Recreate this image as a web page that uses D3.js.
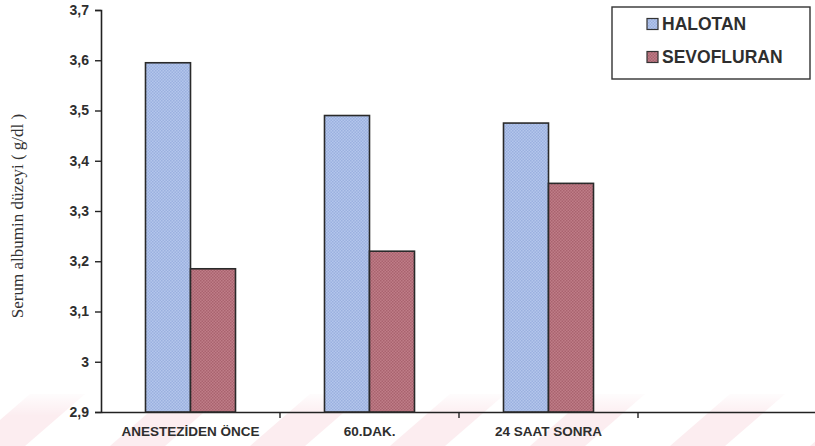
<!DOCTYPE html>
<html>
<head>
<meta charset="utf-8">
<script src="https://cdn.jsdelivr.net/npm/d3@7"></script>
<style>
  html, body { margin: 0; padding: 0; background: #fff; }
  svg { display: block; }
</style>
</head>
<body>
<div id="chart"></div>
<script>
// veriler
const categories = ['ANESTEZİDEN ÖNCE', '60.DAK.', '24 SAAT SONRA', ''];
const seriesNames = ['HALOTAN', 'SEVOFLURAN'];
const halotan = [3.595, 3.49, 3.475, null];
const sevofluran = [3.185, 3.22, 3.355, null];
const yTicks = [2.9, 3, 3.1, 3.2, 3.3, 3.4, 3.5, 3.6, 3.7];

const W = 815, H = 446;
const m = { top: 10, right: -2, bottom: 34, left: 101 };
const w = W - m.left - m.right, h = H - m.top - m.bottom;

const svg = d3.select('#chart').append('svg')
  .attr('width', W).attr('height', H)
  .attr('viewBox', `0 0 ${W} ${H}`);

const defs = svg.append('defs');
// tarama dokusu (taranmış baskı görünümü)
function checker(id, c1, c2) {
  const p = defs.append('pattern').attr('id', id)
    .attr('width', 3).attr('height', 3).attr('patternUnits', 'userSpaceOnUse');
  p.append('rect').attr('width', 3).attr('height', 3).attr('fill', c1);
  p.append('rect').attr('width', 1.5).attr('height', 1.5).attr('fill', c2);
  p.append('rect').attr('x', 1.5).attr('y', 1.5).attr('width', 1.5).attr('height', 1.5).attr('fill', c2);
}
checker('pHal', '#b4c6ec', '#9bb0df');
checker('pSev', '#bf7d88', '#a9636f');
const fills = ['url(#pHal)', 'url(#pSev)'];

// arka plandaki pembe filigran çizgileri
const wm = svg.append('g').attr('opacity', 0.4);
const grad = defs.append('linearGradient').attr('id', 'fade')
  .attr('x1', 0).attr('y1', 0).attr('x2', 0).attr('y2', 1);
grad.append('stop').attr('offset', '0%').attr('stop-color', '#fff').attr('stop-opacity', 1);
grad.append('stop').attr('offset', '100%').attr('stop-color', '#fff').attr('stop-opacity', 0);
d3.range(-1, 7).forEach(i => {
  const x0 = 110 + i * 140;
  wm.append('polygon')
    .attr('points', `${x0},${H} ${x0 + 55},${H} ${x0 + 115},${H - 52} ${x0 + 60},${H - 52}`)
    .attr('fill', '#f9d3da');
});
svg.append('rect').attr('x', 0).attr('y', H - 56).attr('width', W).attr('height', 26)
  .attr('fill', 'url(#fade)');

const g = svg.append('g').attr('transform', `translate(${m.left},${m.top})`);

const x = d3.scaleBand().domain(categories.map((c, i) => i)).range([0, w]).padding(0);
const xs = d3.scaleBand().domain(seriesNames).range([0, 90]);
const y = d3.scaleLinear().domain([2.9, 3.7]).range([h, 0]);

const sans = 'Liberation Sans, Arial, sans-serif';

// y ekseni
const yAxis = g.append('g')
  .call(d3.axisLeft(y).tickValues(yTicks).tickSize(6)
    .tickFormat(d => d3.format('.1f')(d).replace('.', ',').replace(',0', '')));
yAxis.select('.domain').attr('stroke', '#222').attr('stroke-width', 1.6);
yAxis.selectAll('.tick line').attr('stroke', '#222').attr('stroke-width', 1.4);
yAxis.selectAll('text')
  .attr('x', -12)
  .style('font-family', sans)
  .style('font-weight', 'bold').style('font-size', '14px').style('fill', '#2e2e2e');

// x ekseni
const xAxis = g.append('g').attr('transform', `translate(0,${h})`)
  .call(d3.axisBottom(x).tickSize(0).tickFormat(i => categories[i]));
xAxis.select('.domain').attr('stroke', '#222').attr('stroke-width', 1.6);
xAxis.selectAll('text')
  .attr('y', 14)
  .style('font-family', sans)
  .style('font-weight', 'bold').style('font-size', '13.5px').style('fill', '#2e2e2e');
// kategori ayırıcı çentikler
g.selectAll('.xt').data(categories.slice(1)).join('line')
  .attr('x1', (d, i) => x(i + 1)).attr('x2', (d, i) => x(i + 1))
  .attr('y1', h).attr('y2', h + 6)
  .attr('stroke', '#222').attr('stroke-width', 1.4);

// çubuklar
const rows = [];
categories.forEach((c, i) => {
  [halotan, sevofluran].forEach((arr, s) => {
    if (arr[i] != null) rows.push({ i, s, v: arr[i] });
  });
});
g.selectAll('.bar').data(rows).join('rect')
  .attr('x', d => x(d.i) + x.bandwidth() / 2 - 45 + xs(seriesNames[d.s]))
  .attr('y', d => y(d.v))
  .attr('width', xs.bandwidth())
  .attr('height', d => h - y(d.v))
  .attr('fill', d => fills[d.s])
  .attr('stroke', '#2a2a2a').attr('stroke-width', 1.6);

// y ekseni başlığı
svg.append('text')
  .attr('transform', `translate(19,216) rotate(-90)`)
  .attr('text-anchor', 'middle')
  .attr('dominant-baseline', 'middle')
  .style('font-family', 'Liberation Serif, Times New Roman, serif')
  .style('font-size', '17px').style('fill', '#333')
  .text('Serum albumin düzeyi ( g/dl )');

// lejant
const lg = svg.append('g').attr('transform', 'translate(612,7)');
lg.append('rect').attr('width', 198).attr('height', 72)
  .attr('fill', '#fff').attr('stroke', '#333').attr('stroke-width', 1.4);
seriesNames.forEach((n, k) => {
  const yy = 17 + k * 33;
  lg.append('rect').attr('x', 35).attr('y', yy - 5.5).attr('width', 11).attr('height', 11)
    .attr('fill', fills[k]).attr('stroke', '#333').attr('stroke-width', 1.2);
  lg.append('text').attr('x', 50).attr('y', yy).attr('dy', '0.36em')
    .style('font-family', sans)
    .style('font-weight', 'bold').style('font-size', '17.5px').style('fill', '#2e2e2e')
    .text(n);
});
</script>
</body>
</html>
